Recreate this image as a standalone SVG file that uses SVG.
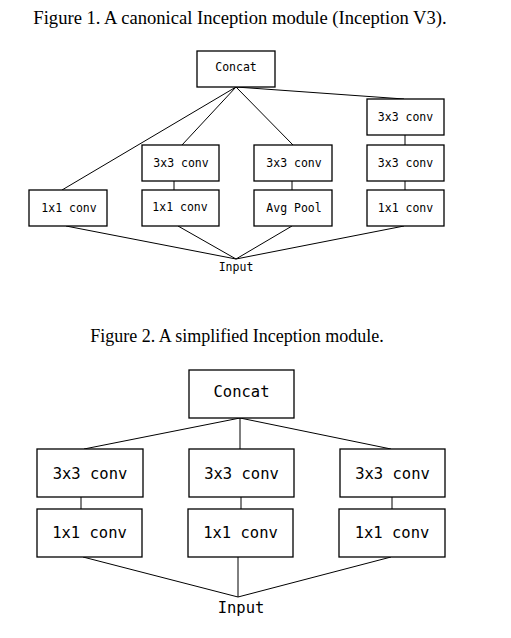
<svg xmlns="http://www.w3.org/2000/svg" width="511" height="638" viewBox="0 0 511 638">
<style>
.bg{fill:#fff}
.box{fill:#fff;stroke:#000;stroke-width:1.3}
.ln{fill:none;stroke:#000;stroke-width:1}
.cap{font-family:"Liberation Serif","Times New Roman",serif;font-size:18px;fill:#000;text-anchor:middle}
.s{font-family:"DejaVu Sans Mono","Liberation Mono",monospace;font-size:11.5px;fill:#000;text-anchor:middle}
.l{font-family:"DejaVu Sans Mono","Liberation Mono",monospace;font-size:15.5px;fill:#000;text-anchor:middle}
</style>
<rect class="bg" x="0" y="0" width="511" height="638"/>
<text class="cap" x="240" y="24" style="font-size:18.6px">Figure 1. A canonical Inception module (Inception V3).</text>
<g id="connectors1">
<line class="ln" x1="236" y1="87" x2="62" y2="190"/>
<line class="ln" x1="236" y1="87" x2="182" y2="145"/>
<line class="ln" x1="236" y1="87" x2="293" y2="145"/>
<line class="ln" x1="236" y1="87" x2="404" y2="99"/>
<line class="ln" x1="174" y1="181" x2="174" y2="190"/>
<line class="ln" x1="292" y1="181" x2="292" y2="190"/>
<line class="ln" x1="405" y1="135" x2="405" y2="145"/>
<line class="ln" x1="405" y1="181" x2="405" y2="190"/>
<line class="ln" x1="66" y1="226" x2="236" y2="259"/>
<line class="ln" x1="178" y1="226" x2="236" y2="259"/>
<line class="ln" x1="292" y1="226" x2="236" y2="259"/>
<line class="ln" x1="404" y1="226" x2="236" y2="259"/>
</g>
<g id="f1-concat"><rect class="box" x="197" y="51" width="78" height="36"/><text class="s" x="236" y="71">Concat</text></g>
<g id="f1-b4-3x3a"><rect class="box" x="367" y="99" width="77" height="36"/><text class="s" x="405.5" y="121">3x3 conv</text></g>
<g id="f1-b2-3x3"><rect class="box" x="142" y="145" width="77" height="36"/><text class="s" x="181" y="167">3x3 conv</text></g>
<g id="f1-b3-3x3"><rect class="box" x="254" y="145" width="78" height="36"/><text class="s" x="294" y="167">3x3 conv</text></g>
<g id="f1-b4-3x3b"><rect class="box" x="367" y="145" width="77" height="36"/><text class="s" x="405.5" y="167">3x3 conv</text></g>
<g id="f1-b1-1x1"><rect class="box" x="29" y="190" width="78" height="36"/><text class="s" x="69" y="212">1x1 conv</text></g>
<g id="f1-b2-1x1"><rect class="box" x="142" y="190" width="77" height="36"/><text class="s" x="180" y="211">1x1 conv</text></g>
<g id="f1-b3-pool"><rect class="box" x="254" y="190" width="78" height="36"/><text class="s" x="294" y="212">Avg Pool</text></g>
<g id="f1-b4-1x1"><rect class="box" x="367" y="190" width="77" height="36"/><text class="s" x="405.5" y="212">1x1 conv</text></g>
<g id="f1-input"><text class="s" x="236" y="271">Input</text></g>

<text class="cap" x="237" y="342">Figure 2. A simplified Inception module.</text>
<g id="connectors2">
<line class="ln" x1="240" y1="418" x2="84" y2="449"/>
<line class="ln" x1="240" y1="418" x2="240" y2="449"/>
<line class="ln" x1="240" y1="418" x2="391" y2="449"/>
<line class="ln" x1="81" y1="497" x2="81" y2="509"/>
<line class="ln" x1="241" y1="497" x2="241" y2="509"/>
<line class="ln" x1="392" y1="497" x2="392" y2="509"/>
<line class="ln" x1="83" y1="557" x2="238" y2="597"/>
<line class="ln" x1="238" y1="557" x2="238" y2="597"/>
<line class="ln" x1="391" y1="557" x2="238" y2="597"/>
</g>
<g id="f2-concat"><rect class="box" x="189" y="370" width="105" height="48"/><text class="l" x="241.5" y="397">Concat</text></g>
<g id="f2-b1-3x3"><rect class="box" x="37" y="449" width="106" height="48"/><text class="l" x="90" y="479">3x3 conv</text></g>
<g id="f2-b2-3x3"><rect class="box" x="189" y="449" width="105" height="48"/><text class="l" x="241.5" y="479">3x3 conv</text></g>
<g id="f2-b3-3x3"><rect class="box" x="340" y="449" width="105" height="48"/><text class="l" x="392.5" y="479">3x3 conv</text></g>
<g id="f2-b1-1x1"><rect class="box" x="37" y="509" width="105" height="48"/><text class="l" x="89.5" y="538">1x1 conv</text></g>
<g id="f2-b2-1x1"><rect class="box" x="188" y="509" width="105" height="48"/><text class="l" x="240.5" y="538">1x1 conv</text></g>
<g id="f2-b3-1x1"><rect class="box" x="339" y="509" width="106" height="48"/><text class="l" x="392" y="538">1x1 conv</text></g>
<g id="f2-input"><text class="l" x="241" y="613">Input</text></g>
</svg>
